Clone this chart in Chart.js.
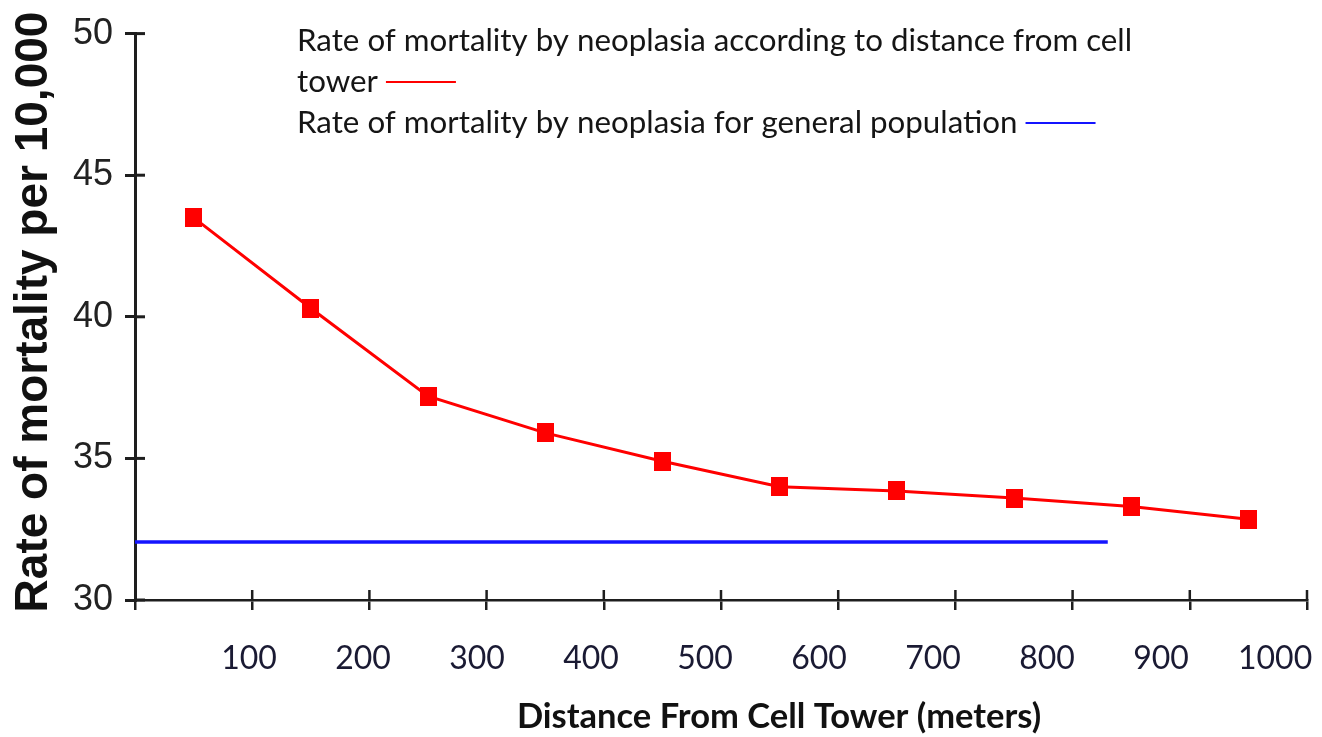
<!DOCTYPE html>
<html>
<head>
<meta charset="utf-8">
<script src="https://cdn.jsdelivr.net/npm/chart.js@4.4.1/dist/chart.umd.min.js"></script>
<style>
  html, body { margin: 0; padding: 0; background: #fff; }
  #wrap { position: relative; width: 1322px; height: 737px; }
</style>
</head>
<body>
<div id="wrap"><canvas id="mortalityChart"></canvas></div>
<script>
const distances = [50, 150, 250, 350, 450, 550, 650, 750, 850, 950]
const towerRates = [43.5, 40.3, 37.2, 35.9, 34.9, 34.0, 33.85, 33.6, 33.3, 32.85]
const generalDistances = [0, 830]
const generalRates = [32.05, 32.05]
const xTickValues = [0, 100, 200, 300, 400, 500, 600, 700, 800, 900, 1000]
const yTickValues = [30, 35, 40, 45, 50]

const towerLabel = 'Rate of mortality by neoplasia according to distance from cell tower'
const generalLabel = 'Rate of mortality by neoplasia for general population'
const xTitle = 'Distance From Cell Tower (meters)'
const yTitle = 'Rate of mortality per 10,000'

const axisColor = '#1e1e1e'

// square marker, slightly taller than wide like in the source
const marker = document.createElement('canvas')
marker.width = 17
marker.height = 19
const mctx = marker.getContext('2d')
mctx.fillStyle = '#ff0000'
mctx.fillRect(0, 0, 17, 19)

// the ticks cross the axes in the original, chart.js only draws the outer half.
// legend: text first, line sample after it, wrapping like the source
const decorations = {
  id: 'decorations',
  afterDraw(chart) {
    const { ctx, chartArea, scales } = chart
    ctx.save()
    ctx.strokeStyle = axisColor
    ctx.lineWidth = 2.5
    scales.x.ticks.forEach(t => {
      if (t.value === 0) return
      const px = scales.x.getPixelForValue(t.value)
      ctx.beginPath()
      ctx.moveTo(px, chartArea.bottom)
      ctx.lineTo(px, chartArea.bottom - 10)
      ctx.stroke()
    })
    ctx.lineWidth = 3
    scales.y.ticks.forEach(t => {
      const py = scales.y.getPixelForValue(t.value)
      ctx.beginPath()
      ctx.moveTo(chartArea.left, py)
      ctx.lineTo(chartArea.left + 10, py)
      ctx.stroke()
    })

    // legend
    ctx.font = '31.3px Lato'
    ctx.textBaseline = 'alphabetic'
    ctx.textAlign = 'left'
    let y = 51
    chart.data.datasets.forEach(ds => {
      const lines = []
      let line = ''
      ds.label.split(' ').forEach(w => {
        const test = line ? line + ' ' + w : w
        if (line && ctx.measureText(test).width > 870) {
          lines.push(line)
          line = w
        } else {
          line = test
        }
      })
      lines.push(line)
      lines.forEach((l, i) => {
        ctx.fillStyle = '#151515'
        ctx.fillText(l, 297, y)
        if (i === lines.length - 1) {
          const x0 = 297 + ctx.measureText(l).width + 8
          ctx.strokeStyle = ds.borderColor
          ctx.lineWidth = 2
          ctx.beginPath()
          ctx.moveTo(x0, y - 10)
          ctx.lineTo(x0 + 70, y - 10)
          ctx.stroke()
        }
        y += 41
      })
    })

    // axis titles
    ctx.fillStyle = '#111'
    ctx.font = 'bold 34.5px Lato'
    ctx.textAlign = 'center'
    ctx.fillText(xTitle, 779, 728)
    ctx.font = 'bold 46px "Liberation Sans"'
    ctx.translate(47, 312)
    ctx.rotate(-Math.PI / 2)
    ctx.fillText(yTitle, 0, 0)
    ctx.restore()
  }
}

new Chart(document.getElementById('mortalityChart'), {
  type: 'line',
  data: {
    datasets: [{
      label: towerLabel,
      data: distances.map((d, i) => ({ x: d, y: towerRates[i] })),
      borderColor: '#ff0000',
      borderWidth: 3,
      pointStyle: marker,
      pointRadius: 9,
      tension: 0
    }, {
      label: generalLabel,
      data: generalDistances.map((d, i) => ({ x: d, y: generalRates[i] })),
      borderColor: '#1414ff',
      borderWidth: 3.5,
      pointRadius: 0
    }]
  },
  options: {
    responsive: true,
    maintainAspectRatio: false,
    animation: false,
    layout: { padding: { top: 33, right: 15, left: 0, bottom: 0 } },
    plugins: {
      legend: { display: false },
      tooltip: { enabled: false }
    },
    scales: {
      x: {
        type: 'linear',
        min: 0,
        max: 1000,
        afterBuildTicks: s => { s.ticks = xTickValues.map(v => ({ value: v })) },
        ticks: { display: false },
        grid: { drawOnChartArea: false, tickLength: 10, color: axisColor, lineWidth: 2.5 },
        border: { color: axisColor, width: 2.5 }
      },
      // labels in the original drift a little left of their tick marks
      xLabels: {
        type: 'linear',
        position: 'bottom',
        weight: 1,
        min: 0,
        max: 1028,
        afterBuildTicks: s => { s.ticks = xTickValues.map(v => ({ value: v })) },
        afterFit: s => {
          s.height = 127
          s.paddingLeft = 0
          s.paddingRight = 0
        },
        grid: { display: false },
        border: { display: false },
        ticks: {
          callback: v => v === 0 ? '' : v,
          font: { family: 'Lato', size: 32 },
          color: '#1a1a33',
          padding: 21,
          maxRotation: 0,
          autoSkip: false
        }
      },
      y: {
        min: 30,
        max: 50,
        afterBuildTicks: s => { s.ticks = yTickValues.map(v => ({ value: v })) },
        afterFit: s => { s.width = 135 },
        ticks: { font: { family: 'Liberation Sans', size: 36 }, color: '#222', padding: 12 },
        grid: { drawOnChartArea: false, tickLength: 10, color: axisColor, lineWidth: 3 },
        border: { color: axisColor, width: 3 }
      }
    }
  },
  plugins: [decorations]
})
</script>
</body>
</html>
